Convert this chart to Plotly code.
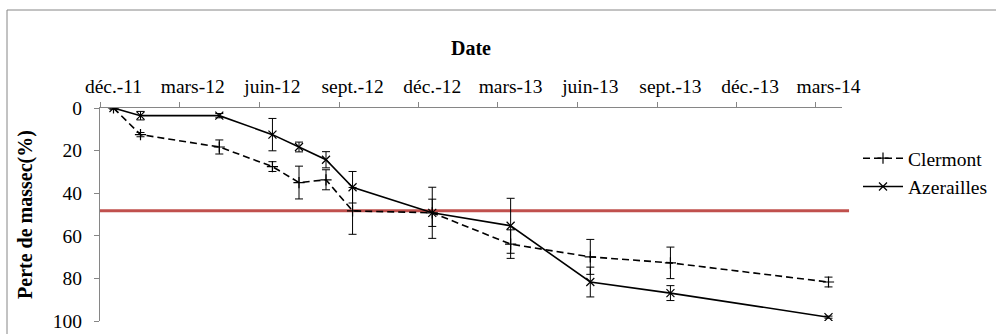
import pandas as pd
import plotly.graph_objects as go

# ---- data ----
months = ["2011-12", "2012-01", "2012-04", "2012-06", "2012-07", "2012-08",
          "2012-09", "2012-12", "2013-03", "2013-06", "2013-09", "2014-03"]
clermont = [0, 12.5, 18.3, 27.5, 35.0, 33.7, 48.3, 49.2, 63.9, 69.9, 72.7, 81.7]
clermont_err = [0.5, 1.0, 3.3, 2.3, 7.7, 4.7, 11.0, 6.4, 6.7, 8.2, 7.4, 2.3]
azerailles = [0, 3.6, 3.6, 12.5, 18.3, 24.3, 37.2, 49.2, 55.3, 81.7, 86.9, 98.2]
azerailles_err = [0.5, 2.0, 1.0, 7.6, 2.3, 3.8, 7.4, 12.0, 12.9, 7.0, 3.5, 0.5]
threshold = 48.2

tick_months = ["2011-12", "2012-03", "2012-06", "2012-09", "2012-12", "2013-03",
               "2013-06", "2013-09", "2013-12", "2014-03"]
tick_labels = ["déc.-11", "mars-12", "juin-12", "sept.-12", "déc.-12", "mars-13",
               "juin-13", "sept.-13", "déc.-13", "mars-14"]


def mid_month(m):
    start = pd.Timestamp(m + "-01")
    end = start + pd.offsets.MonthBegin(1)
    return start + (end - start) / 2


x_pts = [mid_month(m) for m in months]
x_ticks = [mid_month(m) for m in tick_months]

FONT = "Liberation Serif"
GRAY = "#868686"

fig = go.Figure()
fig.add_trace(go.Scatter(
    x=x_pts, y=clermont, name="Clermont", mode="lines+markers",
    line=dict(color="black", width=1.6, dash="7px,4px"),
    marker=dict(symbol="cross-thin-open", size=8, color="black",
                line=dict(color="black", width=1.2)),
    error_y=dict(type="data", array=clermont_err, color="black",
                 thickness=1, width=4),
))
fig.add_trace(go.Scatter(
    x=x_pts, y=azerailles, name="Azerailles", mode="lines+markers",
    line=dict(color="black", width=1.6),
    marker=dict(symbol="x-thin-open", size=8, color="black",
                line=dict(color="black", width=1.2)),
    error_y=dict(type="data", array=azerailles_err, color="black",
                 thickness=1, width=4),
))

# threshold line
fig.add_shape(type="line", xref="paper", yref="y", x0=0, x1=1.0095,
              y0=threshold, y1=threshold,
              line=dict(color="#C0504D", width=3), layer="below")

# chart border
fig.add_shape(type="rect", xref="paper", yref="paper",
              x0=(7 - 100) / 742, x1=(1010 - 100) / 742,
              y0=(321 - 345) / 213, y1=(321 - 10) / 213,
              line=dict(color=GRAY, width=1), layer="below")

fig.update_layout(
    width=996, height=334,
    margin=dict(l=100, r=154, t=108, b=13, autoexpand=False),
    paper_bgcolor="white", plot_bgcolor="white",
    font=dict(family=FONT, size=19.5, color="black"),
    showlegend=True,
    legend=dict(xref="container", yref="container", x=858 / 996, y=1 - 139 / 334,
                xanchor="left", yanchor="top",
                font=dict(family=FONT, size=19.5, color="black"),
                itemwidth=40, bgcolor="rgba(0,0,0,0)", tracegroupgap=0),
    xaxis=dict(
        type="date", side="top", automargin=False,
        range=["2011-12-01", "2014-04-01"],
        tickmode="array", tickvals=x_ticks, ticktext=tick_labels,
        ticks="", showgrid=False, zeroline=False,
        showline=True, linecolor=GRAY, linewidth=1,
        ticklabelstandoff=6,
        tickfont=dict(family=FONT, size=19.5, color="black"),
        minor=dict(tickmode="linear", tick0="2011-12-01", dtick="M3",
                   ticks="outside", ticklen=5, tickcolor=GRAY, showgrid=False),
        title=dict(text="<b>Date</b>", font=dict(family=FONT, size=20),
                   standoff=15),
    ),
    yaxis=dict(
        range=[100, 0], tickmode="linear", tick0=0, dtick=20, automargin=False,
        ticks="outside", ticklen=5, tickcolor=GRAY,
        showgrid=False, zeroline=False,
        showline=True, linecolor=GRAY, linewidth=1,
        ticklabelstandoff=8,
        tickfont=dict(family=FONT, size=19.5, color="black"),
        title=dict(text="<b>Perte de massec(%)</b>",
                   font=dict(family=FONT, size=20), standoff=14),
    ),
)

fig.write_html("out.html",
               config={"displayModeBar": False},
               post_script="document.body.style.margin='0';"
                           "document.body.style.padding='0';")
